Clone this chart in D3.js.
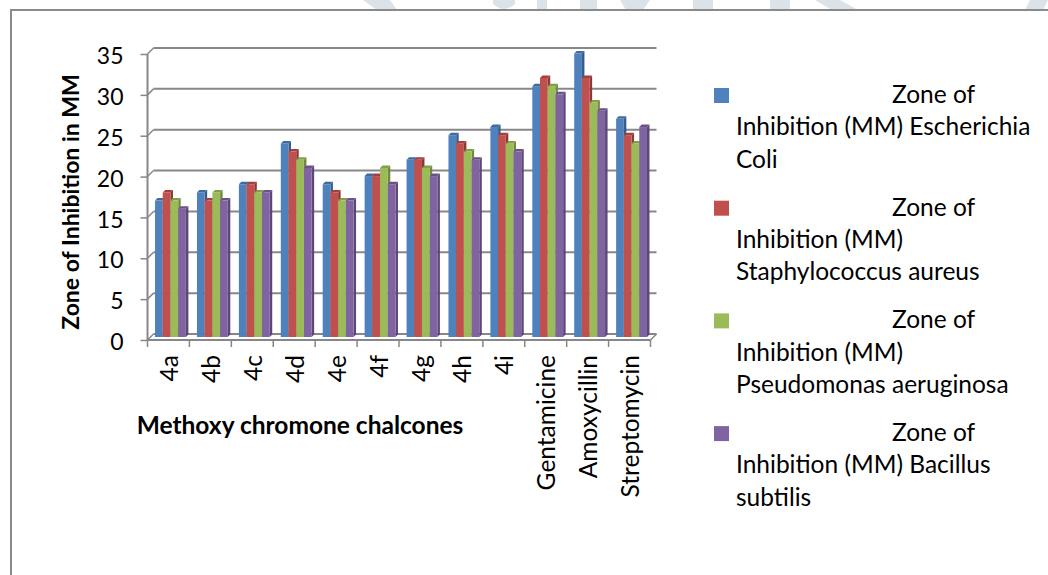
<!DOCTYPE html>
<html><head><meta charset="utf-8">
<script src="https://cdn.jsdelivr.net/npm/d3@7"></script>
<style>
html,body{margin:0;padding:0;background:#fff;}
svg{display:block;font-family:Lato,"Noto Sans",sans-serif;}
</style></head>
<body>
<svg id="chart" width="1048" height="575"></svg>
<script>
const categories = ["4a","4b","4c","4d","4e","4f","4g","4h","4i","Gentamicine","Amoxycillin","Streptomycin"];
const seriesNames = [
  "Zone of Inhibition (MM) Escherichia Coli",
  "Zone of Inhibition (MM) Staphylococcus aureus",
  "Zone of Inhibition (MM) Pseudomonas aeruginosa",
  "Zone of Inhibition (MM) Bacillus subtilis"
];
const eColi       = [17,18,19,24,19,20,22,25,26,31,35,27];
const sAureus     = [18,17,19,23,18,20,22,24,25,32,32,25];
const pAeruginosa = [17,18,18,22,17,21,21,23,24,31,29,24];
const bSubtilis   = [16,17,18,21,17,19,20,22,23,30,28,26];
const yTicks = [0,5,10,15,20,25,30,35];
const legendLines = [
  ["Zone of","Inhibition (MM) Escherichia","Coli"],
  ["Zone of","Inhibition (MM)","Staphylococcus aureus"],
  ["Zone of","Inhibition (MM)","Pseudomonas aeruginosa"],
  ["Zone of","Inhibition (MM) Bacillus","subtilis"]
];
const yTitle = "Zone of Inhibition in MM";
const xTitle = "Methoxy chromone chalcones";

const series = [eColi, sAureus, pAeruginosa, bSubtilis];
const fronts = ["#4F81BD","#C0504D","#9BBB59","#8064A2"];
const sides  = ["#385D8A","#8C3836","#71893F","#5C4776"];
const tops   = ["#3E6A9E","#A33F3C","#80A047","#6A5289"];

const svg = d3.select("#chart");

// faint watermark remnants above the frame
const wm = svg.append("g").attr("fill","#dce3e8");
const wmShapes = [
  [[363,0],[390,0],[397,10],[377,10]],
  [[537,0],[547,0],[547,10],[537,10]],
  [[580,0],[597,0],[597,10],[580,10]],
  [[620,0],[650,0],[643,10],[626,10]],
  [[693,0],[713,0],[713,10],[693,10]],
  [[770,0],[790,0],[790,10],[770,10]],
  [[815,0],[840,0],[858,10],[832,10]],
  [[1030,0],[1048,0],[1043,10],[1025,10]]
];
wmShapes.forEach(p=>wm.append("polygon").attr("points",p.map(d=>d.join(",")).join(" ")));
wm.append("path").attr("d","M493,0 L515,0 L515,4 Q504,14 493,4 Z");

// outer frame
svg.append("path").attr("d","M11,575 L11,10 L1048,10").attr("fill","none")
  .attr("stroke","#8a8a8a").attr("stroke-width",2);

const x = d3.scaleBand().domain(categories).range([147.5, 650.5]).padding(0);
const y = d3.scaleLinear().domain([0,35]).range([340, 54]);
const dx = 6, dy = -6;
const gridC = "#878787";

// back wall gridlines with side connectors
const grid = svg.append("g");
yTicks.forEach(t=>{
  const yy = y(t);
  grid.append("line").attr("x1",147.5+dx).attr("x2",650.5+dx).attr("y1",yy+dy).attr("y2",yy+dy)
    .attr("stroke",gridC).attr("stroke-width",2);
  grid.append("line").attr("x1",147.5).attr("x2",147.5+dx).attr("y1",yy).attr("y2",yy+dy)
    .attr("stroke",gridC).attr("stroke-width",1.5);
});
// floor
grid.append("path").attr("d",`M650.5,${y(0)} L${650.5+dx},${y(0)+dy}`).attr("stroke",gridC).attr("stroke-width",1.5).attr("fill","none");

// Y axis (front)
const yAxis = d3.axisLeft(y).tickValues(yTicks).tickSize(7).tickPadding(17);
const gy = svg.append("g").attr("transform","translate(147.5,0)").call(yAxis);
gy.select(".domain").attr("stroke",gridC).attr("stroke-width",2).attr("d",`M0,${y(0)}V${y(35)}`);
gy.selectAll(".tick line").attr("stroke",gridC).attr("stroke-width",1.5);
gy.selectAll(".tick text").attr("font-size",23).attr("font-family","Lato").attr("fill","#000").attr("dy","0.42em");

// X axis (front)
const xAxis = d3.axisBottom(x).tickSize(0).tickFormat("");
const gx = svg.append("g").attr("transform",`translate(0,${y(0)})`).call(xAxis);
gx.select(".domain").attr("stroke",gridC).attr("stroke-width",2).attr("d","M147.5,0H650.5");
const edges = categories.map(c=>x(c)).concat([650.5]);
gx.selectAll("line.edge").data(edges).enter().append("line").attr("class","edge")
  .attr("x1",d=>d).attr("x2",d=>d).attr("y1",0).attr("y2",7).attr("stroke",gridC).attr("stroke-width",1.5);

// Bars (3D look)
const bw = x.bandwidth();
const w = bw*0.184, bd = 2.5, yBase = 337;
const bars = svg.append("g");
categories.forEach((c,ci)=>{
  series.forEach((s,si)=>{
    const x0 = x(c) + bw*0.18 + si*w;
    const yt = y(s[ci]) - 0.5;
    const g = bars.append("g");
    g.append("polygon").attr("points",`${x0+w},${yt} ${x0+w+bd},${yt-bd} ${x0+w+bd},${yBase-bd} ${x0+w},${yBase}`).attr("fill",sides[si]);
    g.append("polygon").attr("points",`${x0},${yt} ${x0+bd},${yt-bd} ${x0+w+bd},${yt-bd} ${x0+w},${yt}`).attr("fill",tops[si]);
    g.append("rect").attr("x",x0).attr("y",yt).attr("width",w).attr("height",yBase-yt).attr("fill",fronts[si]);
  });
});

// Category labels (rotated)
svg.append("g").selectAll("text").data(categories).enter().append("text")
  .attr("transform",d=>`translate(${x(d)+bw/2+1},355) rotate(-90)`)
  .attr("text-anchor","end").attr("dy","0.35em")
  .attr("font-size",24.5).attr("font-family","Lato").attr("fill","#000").text(d=>d);

// Axis titles
svg.append("text").attr("transform","translate(79,202) rotate(-90)").attr("text-anchor","middle")
  .attr("font-size",23).attr("font-weight","bold").attr("font-family","Lato").attr("fill","#000").text(yTitle);
svg.append("text").attr("x",300).attr("y",434).attr("text-anchor","middle")
  .attr("font-size",24.5).attr("font-weight","bold").attr("font-family","Lato").attr("fill","#000").text(xTitle);

// Legend
const leg = svg.append("g");
seriesNames.forEach((n,i)=>{
  const base = 103 + i*112.7;
  leg.append("rect").attr("x",714).attr("y",base-15).attr("width",15).attr("height",15).attr("fill",fronts[i]);
  const lines = legendLines[i];
  lines.forEach((ln,li)=>{
    leg.append("text").attr("x",li===0?892:736).attr("y",base+li*32.3)
      .attr("font-size",24.5).attr("font-family","Lato").attr("fill","#000").text(ln);
  });
});
</script>
</body></html>
